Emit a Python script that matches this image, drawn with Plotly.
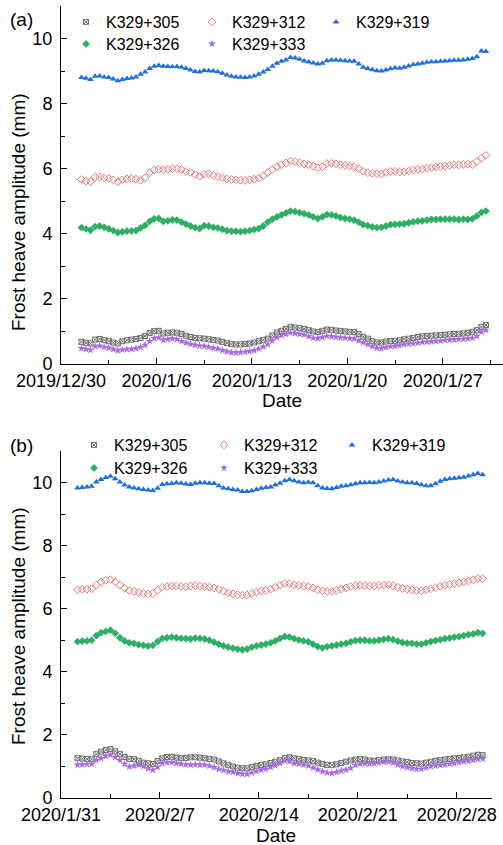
import pandas as pd
import plotly.graph_objects as go

# ---------------- data: panel (a), 8-hourly from 2019-12-31 12:00 ----------------
start_a = "2019-12-31 12:00"
a_305 = [0.68, 0.65, 0.63, 0.75, 0.77, 0.73, 0.70, 0.66, 0.63, 0.70, 0.73, 0.75,
         0.77, 0.80, 0.86, 0.95, 1.01, 1.02, 0.94, 0.96, 0.97, 0.96, 0.92, 0.87,
         0.83, 0.80, 0.79, 0.78, 0.76, 0.74, 0.72, 0.68, 0.64, 0.61, 0.60, 0.60,
         0.61, 0.63, 0.66, 0.70, 0.74, 0.78, 0.88, 0.97, 1.02, 1.08, 1.14, 1.12,
         1.10, 1.08, 1.04, 1.00, 0.98, 1.02, 1.06, 1.05, 1.03, 1.01, 1.00, 0.99,
         0.98, 0.92, 0.84, 0.78, 0.70, 0.66, 0.66, 0.69, 0.71, 0.71, 0.73, 0.76,
         0.78, 0.80, 0.83, 0.85, 0.86, 0.87, 0.88, 0.89, 0.90, 0.91, 0.92, 0.93,
         0.94, 0.96, 0.99, 1.04, 1.14, 1.20]
a_312 = [5.67, 5.62, 5.60, 5.74, 5.75, 5.72, 5.70, 5.66, 5.60, 5.66, 5.69, 5.70,
         5.68, 5.65, 5.72, 5.88, 5.96, 5.98, 5.97, 5.98, 6.00, 6.00, 5.97, 5.92,
         5.88, 5.82, 5.77, 5.83, 5.85, 5.80, 5.76, 5.72, 5.69, 5.67, 5.66, 5.65,
         5.64, 5.66, 5.68, 5.71, 5.78, 5.88, 5.98, 6.06, 6.12, 6.18, 6.24, 6.22,
         6.18, 6.15, 6.12, 6.08, 6.03, 6.06, 6.16, 6.17, 6.15, 6.12, 6.10, 6.08,
         6.06, 6.00, 5.92, 5.88, 5.86, 5.85, 5.84, 5.88, 5.92, 5.92, 5.90, 5.91,
         5.93, 5.96, 5.98, 5.99, 6.01, 6.03, 6.05, 6.07, 6.08, 6.10, 6.12, 6.12,
         6.13, 6.14, 6.13, 6.22, 6.33, 6.41]
a_319 = [8.80, 8.78, 8.74, 8.84, 8.85, 8.82, 8.80, 8.76, 8.70, 8.74, 8.77, 8.79,
         8.82, 8.90, 8.97, 9.08, 9.15, 9.17, 9.15, 9.14, 9.13, 9.14, 9.12, 9.08,
         9.03, 8.99, 8.97, 9.02, 9.01, 9.00, 8.98, 8.93, 8.88, 8.84, 8.82, 8.81,
         8.80, 8.82, 8.85, 8.90, 8.97, 9.05, 9.15, 9.24, 9.30, 9.34, 9.42, 9.40,
         9.36, 9.31, 9.28, 9.25, 9.22, 9.24, 9.32, 9.34, 9.34, 9.33, 9.32, 9.31,
         9.30, 9.22, 9.12, 9.08, 9.04, 9.01, 9.00, 9.03, 9.07, 9.10, 9.09, 9.12,
         9.16, 9.20, 9.22, 9.24, 9.27, 9.29, 9.29, 9.30, 9.31, 9.32, 9.33, 9.33,
         9.34, 9.36, 9.39, 9.44, 9.62, 9.60]
a_326 = [4.19, 4.15, 4.11, 4.22, 4.24, 4.20, 4.15, 4.10, 4.04, 4.06, 4.08, 4.09,
         4.10, 4.18, 4.26, 4.38, 4.46, 4.47, 4.38, 4.40, 4.43, 4.42, 4.36, 4.30,
         4.24, 4.19, 4.16, 4.25, 4.24, 4.20, 4.18, 4.14, 4.10, 4.08, 4.08, 4.07,
         4.08, 4.10, 4.13, 4.16, 4.24, 4.36, 4.45, 4.52, 4.58, 4.64, 4.70, 4.68,
         4.65, 4.62, 4.58, 4.52, 4.47, 4.52, 4.59, 4.58, 4.55, 4.50, 4.47, 4.45,
         4.42, 4.36, 4.28, 4.25, 4.21, 4.19, 4.20, 4.24, 4.28, 4.29, 4.30, 4.31,
         4.34, 4.37, 4.39, 4.40, 4.42, 4.44, 4.44, 4.45, 4.45, 4.45, 4.45, 4.44,
         4.45, 4.44, 4.46, 4.55, 4.66, 4.70]
a_333 = [0.48, 0.45, 0.43, 0.54, 0.56, 0.52, 0.50, 0.46, 0.41, 0.44, 0.45, 0.46,
         0.48, 0.52, 0.58, 0.70, 0.79, 0.81, 0.74, 0.76, 0.78, 0.76, 0.70, 0.65,
         0.61, 0.58, 0.56, 0.55, 0.52, 0.49, 0.47, 0.42, 0.38, 0.35, 0.35, 0.36,
         0.37, 0.39, 0.42, 0.47, 0.53, 0.60, 0.72, 0.82, 0.88, 0.92, 0.96, 0.94,
         0.92, 0.90, 0.85, 0.80, 0.79, 0.82, 0.86, 0.85, 0.83, 0.81, 0.80, 0.79,
         0.78, 0.72, 0.66, 0.60, 0.54, 0.49, 0.48, 0.51, 0.54, 0.55, 0.57, 0.60,
         0.62, 0.63, 0.65, 0.67, 0.68, 0.69, 0.70, 0.71, 0.73, 0.74, 0.75, 0.76,
         0.77, 0.78, 0.80, 0.86, 0.99, 1.04]

# ---------------- data: panel (b), 8-hourly from 2020-02-01 04:00 ----------------
start_b = "2020-02-01 04:00"
b_305 = [1.26, 1.25, 1.24, 1.23, 1.40, 1.47, 1.52, 1.55, 1.48, 1.40, 1.30, 1.24,
         1.23, 1.18, 1.12, 1.10, 1.08, 1.17, 1.26, 1.30, 1.31, 1.28, 1.26, 1.27,
         1.29, 1.29, 1.28, 1.26, 1.24, 1.22, 1.16, 1.10, 1.04, 1.00, 0.96, 0.94,
         0.94, 0.98, 1.02, 1.05, 1.07, 1.11, 1.15, 1.20, 1.27, 1.29, 1.26, 1.23,
         1.21, 1.19, 1.17, 1.12, 1.08, 1.05, 1.04, 1.07, 1.11, 1.15, 1.19, 1.22,
         1.23, 1.22, 1.19, 1.18, 1.20, 1.22, 1.23, 1.22, 1.19, 1.16, 1.14, 1.11,
         1.10, 1.09, 1.12, 1.15, 1.18, 1.20, 1.22, 1.24, 1.26, 1.27, 1.29, 1.31,
         1.34, 1.37, 1.36]
b_312 = [6.60, 6.61, 6.62, 6.63, 6.75, 6.85, 6.90, 6.92, 6.85, 6.75, 6.65, 6.58,
         6.55, 6.52, 6.49, 6.47, 6.48, 6.58, 6.68, 6.70, 6.72, 6.72, 6.70, 6.70,
         6.72, 6.73, 6.72, 6.70, 6.68, 6.66, 6.62, 6.56, 6.50, 6.47, 6.45, 6.43,
         6.44, 6.48, 6.53, 6.56, 6.58, 6.62, 6.68, 6.74, 6.80, 6.79, 6.76, 6.74,
         6.72, 6.70, 6.66, 6.60, 6.57, 6.55, 6.55, 6.58, 6.62, 6.66, 6.70, 6.73,
         6.74, 6.73, 6.72, 6.72, 6.74, 6.75, 6.76, 6.73, 6.68, 6.64, 6.62, 6.60,
         6.58, 6.57, 6.60, 6.63, 6.67, 6.71, 6.74, 6.77, 6.80, 6.82, 6.85, 6.88,
         6.92, 6.96, 6.95]
b_319 = [9.83, 9.84, 9.86, 9.88, 10.02, 10.10, 10.16, 10.20, 10.12, 10.02, 9.92, 9.86,
         9.83, 9.80, 9.78, 9.76, 9.75, 9.82, 9.94, 9.96, 9.97, 9.99, 9.98, 9.95,
         9.94, 9.98, 9.99, 9.99, 9.98, 9.97, 9.90, 9.83, 9.80, 9.78, 9.76, 9.72,
         9.72, 9.74, 9.78, 9.82, 9.84, 9.86, 9.92, 9.98, 10.06, 10.10, 10.06, 10.02,
         9.99, 10.01, 9.99, 9.90, 9.83, 9.81, 9.80, 9.84, 9.88, 9.90, 9.93, 9.96,
         9.99, 9.99, 10.00, 9.99, 10.02, 10.05, 10.08, 10.10, 10.05, 10.02, 9.99, 9.99,
         9.97, 9.93, 9.90, 9.90, 9.96, 10.04, 10.10, 10.12, 10.14, 10.15, 10.17, 10.21,
         10.25, 10.29, 10.25]
b_326 = [4.96, 4.97, 4.98, 5.00, 5.15, 5.24, 5.28, 5.32, 5.22, 5.08, 4.98, 4.92,
         4.90, 4.86, 4.84, 4.82, 4.84, 4.96, 5.06, 5.08, 5.10, 5.08, 5.06, 5.05,
         5.04, 5.07, 5.06, 5.04, 5.00, 4.94, 4.88, 4.82, 4.78, 4.75, 4.72, 4.70,
         4.72, 4.78, 4.82, 4.85, 4.88, 4.92, 4.98, 5.06, 5.12, 5.10, 5.05, 5.01,
         4.98, 4.95, 4.88, 4.80, 4.76, 4.80, 4.82, 4.85, 4.88, 4.90, 4.95, 4.99,
         5.00, 5.00, 4.98, 4.98, 5.00, 5.03, 5.05, 5.02, 4.97, 4.93, 4.91, 4.90,
         4.88, 4.88, 4.92, 4.96, 4.99, 5.02, 5.05, 5.07, 5.10, 5.12, 5.15, 5.18,
         5.20, 5.24, 5.22]
b_333 = [1.05, 1.06, 1.07, 1.08, 1.20, 1.26, 1.33, 1.37, 1.30, 1.20, 1.08, 0.99,
         1.02, 1.05, 1.00, 0.94, 0.89, 0.98, 1.10, 1.12, 1.13, 1.10, 1.08, 1.06,
         1.05, 1.06, 1.05, 1.05, 1.02, 0.97, 0.92, 0.88, 0.84, 0.82, 0.78, 0.76,
         0.76, 0.80, 0.85, 0.89, 0.92, 0.98, 1.03, 1.10, 1.18, 1.16, 1.10, 1.08,
         1.05, 1.02, 0.96, 0.90, 0.84, 0.80, 0.78, 0.82, 0.86, 0.89, 0.95, 1.04,
         1.08, 1.09, 1.08, 1.10, 1.12, 1.14, 1.15, 1.12, 1.06, 1.00, 0.97, 0.94,
         0.92, 0.92, 0.96, 1.00, 1.02, 1.04, 1.06, 1.08, 1.10, 1.12, 1.15, 1.18,
         1.20, 1.23, 1.24]

names = ["K329+305", "K329+312", "K329+319", "K329+326", "K329+333"]
series_a = [a_305, a_312, a_319, a_326, a_333]
series_b = [b_305, b_312, b_319, b_326, b_333]

styles = [
    dict(symbol="square-x-open", color="#6f6f6f", size=5, line=dict(width=1, color="#6f6f6f")),
    dict(symbol="diamond-open", color="#e57a7a", size=6, line=dict(width=1, color="#e57a7a")),
    dict(symbol="triangle-up", color="#1f6fe0", size=6, line=dict(width=0)),
    dict(symbol="diamond", color="#2fae65", size=6, line=dict(width=0)),
    dict(symbol="star", color="#a66be0", size=6, line=dict(width=0)),
]

x_a = pd.date_range(start_a, periods=len(a_305), freq="8h")
x_b = pd.date_range(start_b, periods=len(b_305), freq="8h")

W, H = 503, 845
FONT = "Liberation Sans, Arial, sans-serif"
DAY = 86400000

# one legend per entry: (left x px, top y px) in the 503x845 page
legend_pos_a = [(66, 5), (192, 5), (316, 5), (66, 27), (192, 27)]
legend_pos_b = [(74, 428), (204, 428), (332, 428), (74, 451), (204, 451)]

fig = go.Figure()
legends = {}
k = 1
for xs, series, positions, xa, ya in [(x_a, series_a, legend_pos_a, "x", "y"),
                                       (x_b, series_b, legend_pos_b, "x2", "y2")]:
    for name, vals, st, (lx, ly) in zip(names, series, styles, positions):
        lname = "legend" if k == 1 else f"legend{k}"
        fig.add_trace(go.Scatter(x=xs, y=vals, mode="markers", name=name, marker=st,
                                 xaxis=xa, yaxis=ya, legend=lname))
        legends[lname] = dict(orientation="h", x=lx / W, y=1 - ly / H,
                              xanchor="left", yanchor="top", itemwidth=30,
                              font=dict(size=16, color="black", family=FONT),
                              bgcolor="rgba(0,0,0,0)")
        k += 1

def xax(domain, rng, anchor, t0):
    return dict(domain=domain, range=rng, type="date", anchor=anchor, automargin=False,
                showline=True, linecolor="black", linewidth=1, mirror=False,
                ticks="inside", ticklen=6, tickcolor="black", tickwidth=1,
                tick0=t0, dtick=7 * DAY, tickformat="%Y/%-m/%-d",
                minor=dict(ticks="inside", ticklen=4, tickcolor="black", dtick=3.5 * DAY, tick0=t0),
                showgrid=False, zeroline=False, tickfont=dict(size=18, color="black"))

def yax(domain, anchor):
    return dict(domain=domain, range=[0, 11], anchor=anchor, automargin=False,
                showline=True, linecolor="black", linewidth=1, mirror=False,
                ticks="inside", ticklen=6, tickcolor="black", tickwidth=1,
                tick0=0, dtick=2,
                minor=dict(ticks="inside", ticklen=4, tickcolor="black", dtick=1),
                showgrid=False, zeroline=False, ticklabelstandoff=4,
                tickfont=dict(size=18, color="black"))

fig.update_layout(
    width=W, height=H, margin=dict(l=0, r=0, t=0, b=0, autoexpand=False),
    paper_bgcolor="white", plot_bgcolor="white",
    font=dict(family=FONT, color="black"),
    xaxis=xax([61 / W, 1.0], ["2019-12-30", "2020-01-31 10:00"], "y", "2019-12-30"),
    yaxis=yax([1 - 364 / H, 1 - 6 / H], "x"),
    xaxis2=xax([61 / W, 492 / W], ["2020-01-31", "2020-03-01 12:00"], "y2", "2020-01-31"),
    yaxis2=yax([1 - 798 / H, 1 - 451 / H], "x2"),
    showlegend=True,
    **legends,
)

ann = [
    dict(text="(a)", x=8 / W, y=1 - 19 / H, xanchor="left", yanchor="middle", font=dict(size=19)),
    dict(text="(b)", x=8 / W, y=1 - 445 / H, xanchor="left", yanchor="middle", font=dict(size=19)),
    dict(text="Date", x=282 / W, y=1 - 400 / H, xanchor="center", yanchor="middle", font=dict(size=19)),
    dict(text="Date", x=276 / W, y=1 - 835 / H, xanchor="center", yanchor="middle", font=dict(size=19)),
    dict(text="Frost heave amplitude (mm)", x=18 / W, y=1 - 212 / H, textangle=-90,
         xanchor="center", yanchor="middle", font=dict(size=19)),
    dict(text="Frost heave amplitude (mm)", x=18 / W, y=1 - 626 / H, textangle=-90,
         xanchor="center", yanchor="middle", font=dict(size=19)),
]
for a in ann:
    a.update(xref="paper", yref="paper", showarrow=False)
    a["font"].update(family=FONT, color="black")
fig.update_layout(annotations=ann)

fig.write_html("out.html")
